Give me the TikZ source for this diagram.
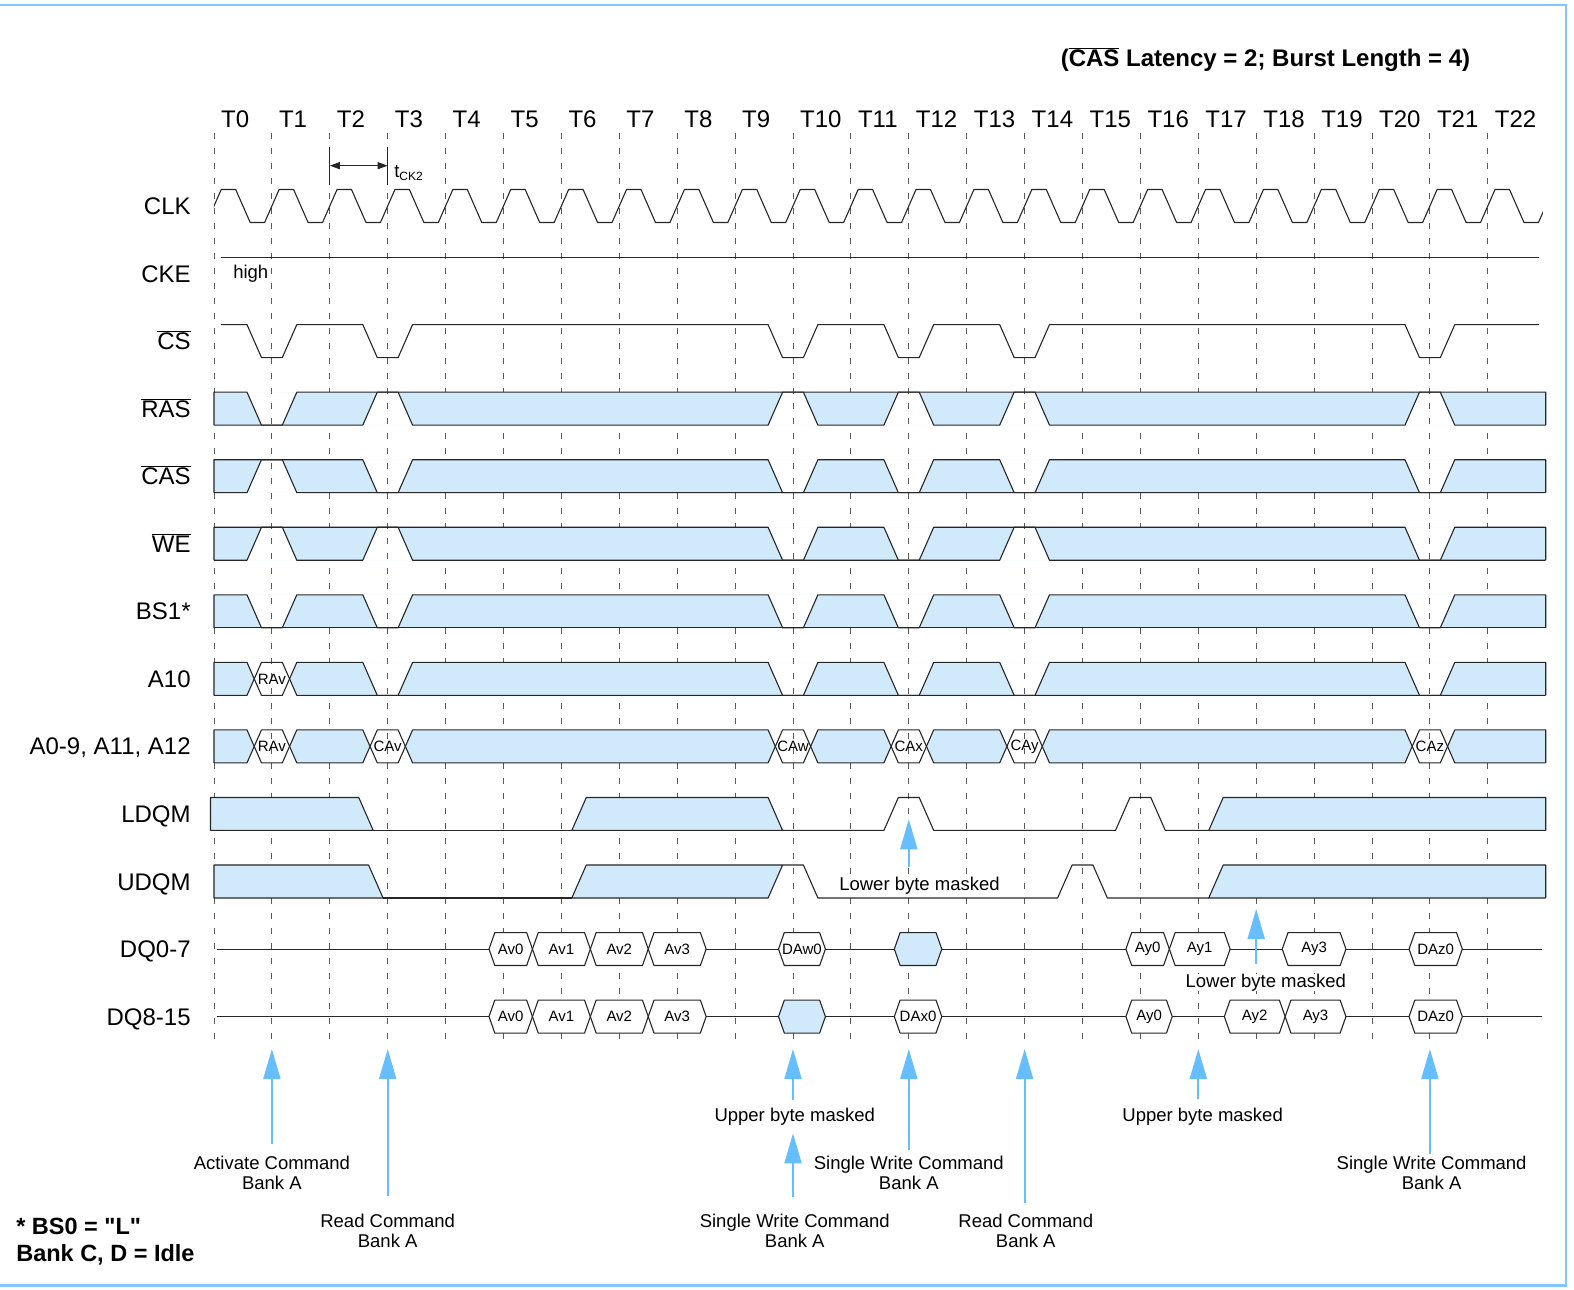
\documentclass[tikz,border=0pt]{standalone}
\usepackage{fontspec}
\setmainfont{Liberation Sans}
\usetikzlibrary{arrows.meta,positioning}

\definecolor{busfill}{RGB}{208,234,252}
\definecolor{markblue}{RGB}{102,190,255}
\definecolor{frameblue}{RGB}{130,198,255}

\newcommand{\hh}{0.244}% half height of a signal row
\newcommand{\ovl}[1]{$\overline{\mbox{#1}}$}

\tikzset{
  sig/.style={line width=1.1pt, draw=black!85, line join=round},
  bus/.style={sig, fill=busfill},
  tick/.style={draw=black!65, line width=0.9pt, dash pattern=on 6pt off 9pt},
  rowname/.style={anchor=base east, inner sep=0pt, font=\fontsize{24}{28}\selectfont},
  clkname/.style={anchor=base west, inner sep=0pt, font=\fontsize{24}{28}\selectfont},
  val/.style={inner sep=0pt, font=\fontsize{15}{18}\selectfont},
  note/.style={anchor=north, align=center, inner sep=0pt, font=\fontsize{18.5}{20.5}\selectfont},
  cmdarrow/.style={markblue, line width=2pt, -{Triangle[length=30pt,width=17pt]}},
}

% bus row: #1 = row, #2 = list of clock/top trace level/bottom trace level (0 high, 1 low)
\newcommand{\busrow}[2]{%
  \fill[busfill, even odd rule] (0,#1-\hh) rectangle (23,#1+\hh)
    \foreach \k/\ta/\tb in {#2} {
      ({\k-.43},#1-\hh) -- ({\k-.18-.125*(\ta-\tb)},{#1+(\ta+\tb-1)*\hh})
      -- ({\k-.43},#1+\hh) -- ({\k+.43},#1+\hh)
      -- ({\k+.18+.125*(\ta-\tb)},{#1+(\ta+\tb-1)*\hh}) -- ({\k+.43},#1-\hh) -- cycle};
  \draw[sig] (0,#1+\hh) -- (0,#1-\hh)
    \foreach \k/\ta/\tb in {#2} {
      -- ({\k-.43},#1-\hh) -- ({\k-.18},{#1+(2*\ta-1)*\hh})
      -- ({\k+.18},{#1+(2*\ta-1)*\hh}) -- ({\k+.43},#1-\hh)}
    -- (23,#1-\hh) -- (23,#1+\hh);
  \draw[sig] (0,#1+\hh)
    \foreach \k/\ta/\tb in {#2} {
      -- ({\k-.43},#1+\hh) -- ({\k-.18},{#1+(2*\tb-1)*\hh})
      -- ({\k+.18},{#1+(2*\tb-1)*\hh}) -- ({\k+.43},#1+\hh)}
    -- (23,#1+\hh);
}

% data word on a DQ row: [fill]{start}{end}{row}{name}{text}
\newcommand{\dqval}[6][white]{%
  \filldraw[sig, fill=#1] (#2,#4) -- ({#2+.1},#4-\hh) -- ({#3-.1},#4-\hh)
    -- (#3,#4) -- ({#3-.1},#4+\hh) -- ({#2+.1},#4+\hh) -- cycle;
  \node[val] (#5) at ({(#2+#3)/2},#4) {#6};
}

\begin{document}
\begin{tikzpicture}[x=57.9pt, y=-67.55pt]
  \useasboundingbox (-3.696,-3.0496) rectangle (23.489,16.047);
  \draw[frameblue, line width=2.5pt] (-3.8,-2.976) rectangle (23.35,15.98);

  \node[anchor=base east, inner sep=0pt, font=\bfseries\fontsize{24}{28}\selectfont] (title)
    at (21.70,-2.061) {(\ovl{CAS} Latency = 2; Burst Length = 4)};

  % clock grid
  \foreach \k in {0,...,22} {
    \draw[tick] (\k,-1.08) -- (\k,12.39);
    \node[clkname] (T\k) at (\k+0.12,-1.168) {T\k};
  }

  \coordinate (ck2a) at (2,-0.597);
  \coordinate (ck2b) at (3,-0.597);
  \draw[sig] (2,-0.877) -- (2,-0.311);
  \draw[sig] (3,-0.877) -- (3,-0.311);
  \draw[sig, {Triangle[length=10pt,width=7pt]}-{Triangle[length=10pt,width=7pt]}] (ck2a) -- (ck2b);
  \node[anchor=base west, inner sep=0pt, font=\fontsize{18.5}{20}\selectfont] (tck)
    at (3.11,-0.429) {t\raisebox{-3pt}{\fontsize{12}{12}\selectfont CK2}};

  % row names
  \node[rowname] (nclk)  at (-0.40,0.127)  {CLK};
  \node[rowname] (ncke)  at (-0.40,1.127)  {CKE};
  \node[rowname] (ncs)   at (-0.40,2.127)  {\ovl{CS}};
  \node[rowname] (nras)  at (-0.40,3.127)  {\ovl{RAS}};
  \node[rowname] (ncas)  at (-0.40,4.127)  {\ovl{CAS}};
  \node[rowname] (nwe)   at (-0.40,5.127)  {\ovl{WE}};
  \node[rowname] (nbs)   at (-0.40,6.127)  {BS1*};
  \node[rowname] (na10)  at (-0.40,7.127)  {A10};
  \node[rowname] (naddr) at (-0.40,8.127)  {A0-9, A11, A12};
  \node[rowname] (nldqm) at (-0.40,9.127)  {LDQM};
  \node[rowname] (nudqm) at (-0.40,10.127) {UDQM};
  \node[rowname] (ndql)  at (-0.40,11.127) {DQ0-7};
  \node[rowname] (ndqh)  at (-0.40,12.127) {DQ8-15};

  % CLK
  \begin{scope}
    \clip (0,-1) rectangle (22.95,1);
    \draw[sig] (-0.125,\hh) \foreach \k in {0,...,23} {
      -- ({\k+.125},-\hh) -- ({\k+.375},-\hh) -- ({\k+.625},\hh) -- ({\k+.875},\hh)};
  \end{scope}

  % CKE
  \draw[sig] (0.12,1-\hh) -- (22.88,1-\hh);
  \node[anchor=base west, inner sep=0pt, font=\fontsize{18.5}{20}\selectfont] (ckehigh) at (0.33,1.08) {high};

  % CS
  \draw[sig] (0.12,2-\hh) \foreach \k in {1,3,10,12,14,21} {
    -- ({\k-.43},2-\hh) -- ({\k-.18},2+\hh) -- ({\k+.18},2+\hh) -- ({\k+.43},2-\hh)}
    -- (22.88,2-\hh);

  % command and address buses
  \busrow{3}{1/1/1, 3/0/0, 10/0/0, 12/0/0, 14/0/0, 21/0/0}
  \busrow{4}{1/0/0, 3/1/1, 10/1/1, 12/1/1, 14/1/1, 21/1/1}
  \busrow{5}{1/0/0, 3/0/0, 10/1/1, 12/1/1, 14/0/0, 21/1/1}
  \busrow{6}{1/1/1, 3/1/1, 10/1/1, 12/1/1, 14/1/1, 21/1/1}
  \busrow{7}{1/1/0, 3/1/1, 10/1/1, 12/1/1, 14/1/1, 21/1/1}
  \busrow{8}{1/1/0, 3/1/0, 10/1/0, 12/1/0, 14/1/0, 21/1/0}
  \node[val] (rav1) at (1,7) {RAv};
  \node[val] (rav2) at (1,8) {RAv};
  \node[val] (cav)  at (3,8) {CAv};
  \node[val] (caw)  at (10,8) {CAw};
  \node[val] (cax)  at (12,8) {CAx};
  \node[val] (cay)  at (14,8) {CAy};
  \node[val] (caz)  at (21,8) {CAz};

  % LDQM
  \filldraw[bus] (-0.06,9-\hh) -- (2.5,9-\hh) -- (2.75,9+\hh) -- (-0.06,9+\hh) -- cycle;
  \filldraw[bus] (6.18,9+\hh) -- (6.43,9-\hh) -- (9.57,9-\hh) -- (9.82,9+\hh) -- cycle;
  \filldraw[bus] (17.18,9+\hh) -- (17.43,9-\hh) -- (23,9-\hh) -- (23,9+\hh) -- cycle;
  \draw[sig] (2.75,9+\hh) -- (6.18,9+\hh);
  \draw[sig] (9.82,9+\hh) \foreach \k in {12,16} {
    -- ({\k-.43},9+\hh) -- ({\k-.18},9-\hh) -- ({\k+.18},9-\hh) -- ({\k+.43},9+\hh)}
    -- (17.18,9+\hh);

  % UDQM
  \filldraw[bus] (0,10-\hh) -- (2.67,10-\hh) -- (2.92,10+\hh) -- (0,10+\hh) -- cycle;
  \filldraw[bus] (6.18,10+\hh) -- (6.43,10-\hh) -- (9.82,10-\hh) -- (9.57,10+\hh) -- cycle;
  \filldraw[bus] (17.18,10+\hh) -- (17.43,10-\hh) -- (23,10-\hh) -- (23,10+\hh) -- cycle;
  \draw[sig] (2.92,10+\hh) -- (6.18,10+\hh);
  \draw[sig] (9.82,10-\hh) -- (10.18,10-\hh) -- (10.43,10+\hh) -- (14.57,10+\hh)
    -- (14.82,10-\hh) -- (15.18,10-\hh) -- (15.43,10+\hh) -- (17.18,10+\hh);

  % DQ0-7
  \draw[sig] (0.05,11) -- (22.93,11);
  \foreach \s/\e/\v in {4.75/5.5/Av0, 5.5/6.5/Av1, 6.5/7.5/Av2, 7.5/8.5/Av3,
      9.75/10.56/DAw0, 15.75/16.5/Ay0, 16.5/17.55/Ay1, 18.45/19.55/Ay3, 20.64/21.56/DAz0}
    \dqval{\s}{\e}{11}{dql\v}{\v};
  \dqval[busfill]{11.75}{12.57}{11}{dqlmask}{};

  % DQ8-15
  \draw[sig] (0.05,12) -- (22.93,12);
  \foreach \s/\e/\v in {4.75/5.5/Av0, 5.5/6.5/Av1, 6.5/7.5/Av2, 7.5/8.5/Av3,
      11.75/12.57/DAx0, 15.75/16.55/Ay0, 17.45/18.5/Ay2, 18.5/19.55/Ay3, 20.64/21.56/DAz0}
    \dqval{\s}{\e}{12}{dqh\v}{\v};
  \dqval[busfill]{9.75}{10.56}{12}{dqhmask}{};

  % commands and masks
  \foreach \k in {1,3,10,12,14,17,21} \coordinate (cmd\k) at (\k,12.48);
  \coordinate (lmask12) at (12,9.079);
  \coordinate (lmask18) at (18,10.407);

  \node[note] (actA) at (1,14.056) {Activate Command\\Bank A};
  \node[note] (rdA)  at (3,14.918) {Read Command\\Bank A};
  \node[note] (ubmA) at (10.03,13.349) {Upper byte masked};
  \node[note] (swA)  at (10.03,14.918) {Single Write Command\\Bank A};
  \node[note] (swB)  at (12,14.056) {Single Write Command\\Bank A};
  \node[note] (rdB)  at (14.02,14.918) {Read Command\\Bank A};
  \node[note] (ubmB) at (17.075,13.349) {Upper byte masked};
  \node[note] (swC)  at (21.03,14.056) {Single Write Command\\Bank A};
  \node[note, fill=white] (lbmA) at (12.185,9.925) {Lower byte masked};
  \node[note, fill=white] (lbmB) at (18.166,11.366) {Lower byte masked};

  \draw[cmdarrow, shorten <=11.5pt] (actA.north -| cmd1) -- (cmd1);
  \draw[cmdarrow, shorten <=17.7pt] (rdA.north -| cmd3) -- (cmd3);
  \draw[cmdarrow, shorten <=7.7pt] (ubmA.north -| cmd10) -- (cmd10);
  \draw[cmdarrow, shorten <=16.4pt, shorten >=8pt] (swA.north -| cmd10) -- (ubmA.south -| cmd10);
  \draw[cmdarrow, shorten <=5.5pt] (swB.north -| cmd12) -- (cmd12);
  \draw[cmdarrow, shorten <=11pt] (rdB.north -| cmd14) -- (cmd14);
  \draw[cmdarrow, shorten <=8.7pt] (ubmB.north -| cmd17) -- (cmd17);
  \draw[cmdarrow, shorten <=1pt] (swC.north -| cmd21) -- (cmd21);
  \draw[cmdarrow, shorten <=9.7pt] (lbmA.north -| lmask12) -- (lmask12);
  \draw[cmdarrow, shorten <=10pt] (lbmB.north -| lmask18) -- (lmask18);

  \node[anchor=north west, align=left, inner sep=0pt, font=\bfseries\fontsize{23.5}{27}\selectfont]
    (bsnote) at (-3.418,14.98) {* BS0 = \textquotedbl L\textquotedbl\\Bank C, D = Idle};
\end{tikzpicture}
\end{document}
